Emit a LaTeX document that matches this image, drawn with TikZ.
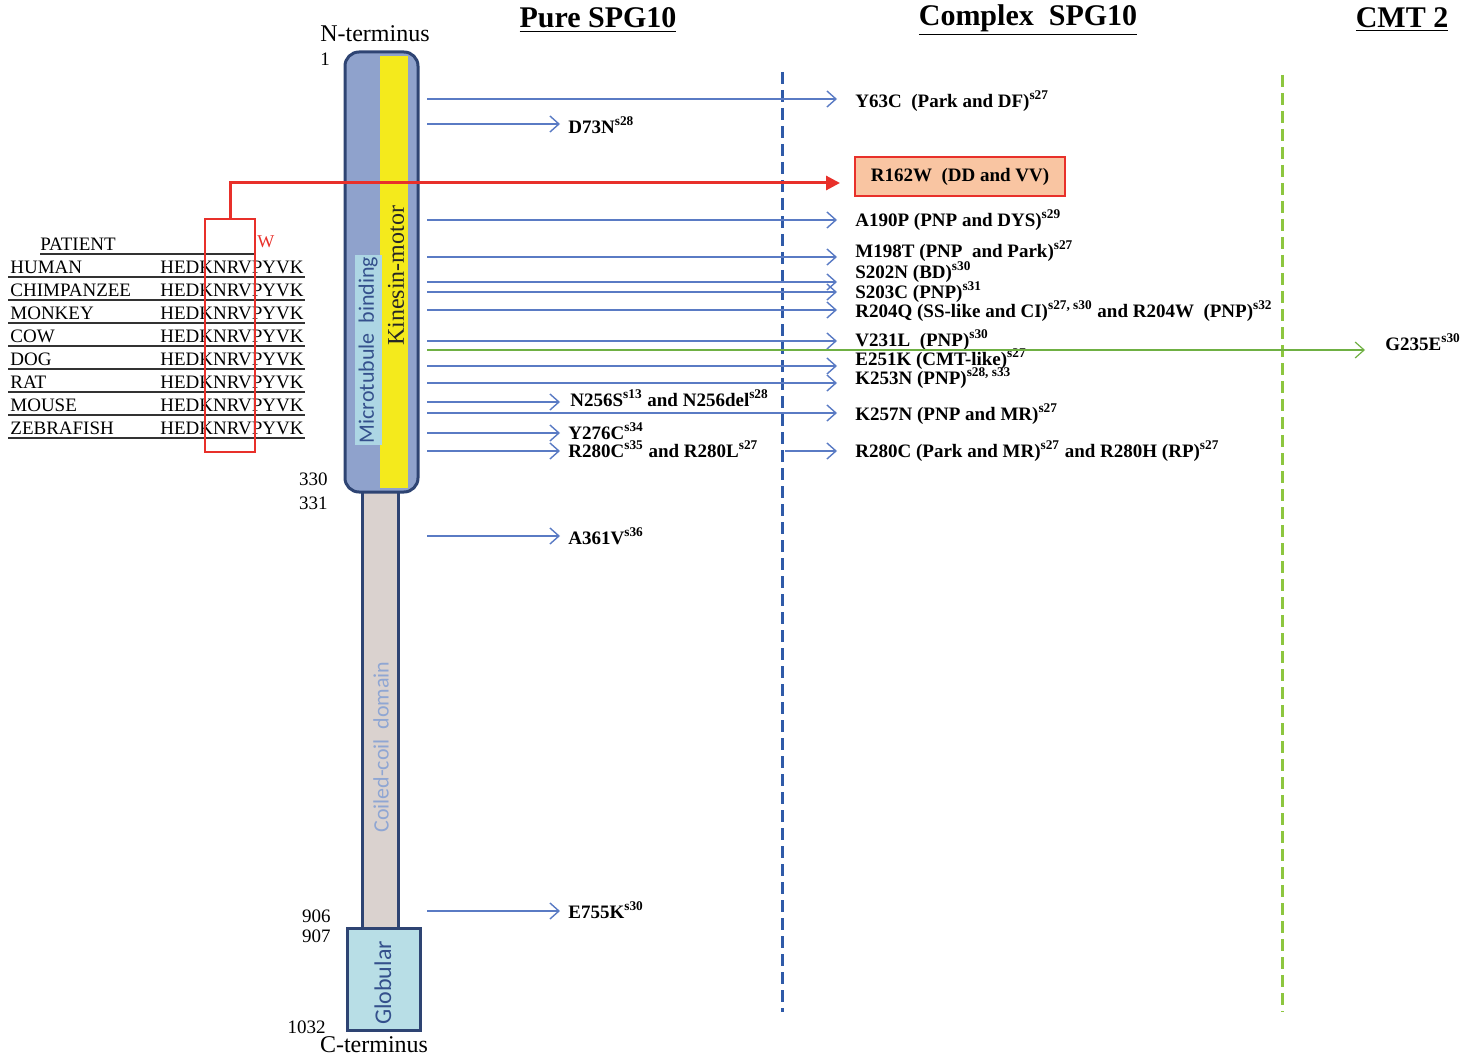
\documentclass[tikz,border=0pt]{standalone}
\usepackage{fontspec}
\setmainfont{Liberation Serif}
\newfontfamily\carl{Carlito}
\usetikzlibrary{arrows.meta}
\definecolor{domblue}{HTML}{8FA2CC}
\definecolor{domedge}{HTML}{2E4473}
\definecolor{kinyel}{HTML}{F4EA1C}
\definecolor{mtcyan}{HTML}{ADD6E4}
\definecolor{mttext}{HTML}{34508C}
\definecolor{ccfill}{HTML}{DAD2CF}
\definecolor{cctext}{HTML}{8FA6D3}
\definecolor{globfill}{HTML}{B8DEE6}
\definecolor{arrblue}{HTML}{5A7BC4}
\definecolor{dashblue}{HTML}{2F5AA8}
\definecolor{dashgreen}{HTML}{8DC63F}
\definecolor{arrgreen}{HTML}{6FB043}
\definecolor{redc}{HTML}{E8302A}
\definecolor{salmon}{HTML}{F9C5A2}
\newcommand\refx[1]{\textsuperscript{#1}}
\begin{document}
\begin{tikzpicture}[x=0.5pt,y=-0.5pt,
  mut/.style={anchor=west,inner sep=0pt,font=\fontsize{9.5}{10}\selectfont\bfseries},
  aln/.style={anchor=west,inner sep=0pt,font=\fontsize{9.5}{10}\selectfont},
  num/.style={anchor=east,inner sep=0pt,font=\fontsize{9.5}{10}\selectfont},
  head/.style={inner sep=0pt,font=\fontsize{15}{16}\selectfont\bfseries},
  term/.style={inner sep=0pt,font=\fontsize{12}{13}\selectfont},
  barr/.style={draw=arrblue,line width=0.7pt,-{Straight Barb[length=4.5pt,width=8pt]}},
  longarr/.style={barr,shorten >=9pt},
  shortarr/.style={barr,shorten >=4pt},
  vdash/.style={line width=1.5pt,dash pattern=on 6pt off 3pt},
  uline/.style={draw=black!80,line width=0.6pt}]
\useasboundingbox (0,0) rectangle (1472,1059);

% ---- headers
\node[head] (hpure) at (598,20) {\underline{Pure SPG10}};
\node[head] (hcomp) at (1028,20) {\underline{Complex\ \ SPG10}};
\node[head] (hcmt) at (1402,20) {\underline{CMT 2}};

% ---- dashed separators
\draw[vdash,draw=dashblue] (782,72) -- (782,1012);
\draw[vdash,draw=dashgreen] (1282,75) -- (1282,1012);

% ---- protein
\draw[domedge,line width=1.5pt,fill=ccfill] (362,488) rectangle (398,928);
\draw[domedge,line width=1.5pt,fill=globfill] (347,928) rectangle (420,1030);
\draw[domedge,line width=1.5pt,fill=domblue,rounded corners=7pt] (345,52) rectangle (418,492);
\fill[kinyel] (380,56) rectangle (408,488);
\node[fill=mtcyan,inner sep=1pt,minimum height=13.5pt,rotate=90,text=mttext,
  font=\carl\fontsize{11}{12}\selectfont] (mtb) at (368,350) {Microtubule\ \ binding};
\node[rotate=90,inner sep=0pt,text=black!85,
  font=\fontsize{12}{13}\selectfont] (kin) at (396,276) {Kinesin-motor};
\node[rotate=90,inner sep=0pt,text=cctext,
  font=\carl\fontsize{11}{12}\selectfont] (cc) at (381,747) {Coiled-coil\ \ domain};
\node[rotate=90,inner sep=0pt,text=mttext,
  font=\carl\fontsize{12}{13}\selectfont] (glob) at (383,983) {Globular};

\node[term] (nterm) at (375,34) {N-terminus};
\node[term] (cterm) at (374,1045) {C-terminus};
\node[num,anchor=center] (n1) at (325,59) {1};
\node[num] (n330) at (328,479) {330};
\node[num] (n331) at (328,503) {331};
\node[num] (n906) at (331,916) {906};
\node[num] (n907) at (331,936) {907};
\node[num] (n1032) at (326,1027) {1032};

% ---- alignment
\node[aln] (pat) at (40,244) {PATIENT};
\node[aln,text=redc,font=\fontsize{9}{10}\selectfont] (pw) at (257,242) {W};
\draw[uline] (40,254) -- (255,254);
\foreach \nm/\yy [count=\i] in {HUMAN/267,CHIMPANZEE/290,MONKEY/313,COW/336,DOG/359,RAT/382,MOUSE/405,ZEBRAFISH/428}{
  \node[aln] (sp\i) at (10,\yy) {\nm};
  \node[aln] (sq\i) at (160,\yy) {HEDKNRVPYVK};
  \draw[uline] (8,\yy+10) -- (305,\yy+10);
}
\node[draw=redc,line width=1pt,minimum width=25pt,minimum height=116.5pt,inner sep=0pt] (redbox) at (230,335.5) {};

% ---- mutation labels
\node[mut] (y63) at (855,101) {Y63C\ \ (Park and DF)\refx{s27}};
\node[mut] (d73) at (568,125) {D73N\refx{s28}};
\node[mut,draw=redc,line width=1pt,fill=salmon,anchor=center,minimum width=105pt,minimum height=19.5pt] (r162) at (960,176.5) {R162W\ \ (DD and VV)};
\node[mut] (a190) at (855,220) {A190P (PNP and DYS)\refx{s29}};
\node[mut] (m198) at (855,251) {M198T (PNP\ \ and Park)\refx{s27}};
\node[mut] (s202) at (855,272) {S202N (BD)\refx{s30}};
\node[mut] (s203) at (855,292) {S203C (PNP)\refx{s31}};
\node[mut] (r204) at (855,311) {R204Q (SS-like and CI)\refx{s27, s30} and R204W\ \ (PNP)\refx{s32}};
\node[mut] (v231) at (855,340) {V231L\ \ (PNP)\refx{s30}};
\node[mut] (e251) at (855,359) {E251K (CMT-like)\refx{s27}};
\node[mut] (k253) at (855,378) {K253N (PNP)\refx{s28, s33}};
\node[mut] (n256) at (570,398) {N256S\refx{s13} and N256del\refx{s28}};
\node[mut] (k257) at (855,414) {K257N (PNP and MR)\refx{s27}};
\node[mut] (y276) at (568,431) {Y276C\refx{s34}};
\node[mut] (r280p) at (568,449) {R280C\refx{s35} and R280L\refx{s27}};
\node[mut] (r280c) at (855,451) {R280C (Park and MR)\refx{s27} and R280H (RP)\refx{s27}};
\node[mut] (g235) at (1385,342) {G235E\refx{s30}};
\node[mut] (a361) at (568,536) {A361V\refx{s36}};
\node[mut] (e755) at (568,910) {E755K\refx{s30}};

% ---- connector start points
\coordinate (c63) at (427,99);
\coordinate (c73) at (427,124);
\coordinate (c190) at (427,220);
\coordinate (c198) at (427,257);
\coordinate (c202) at (427,282);
\coordinate (c203) at (427,292);
\coordinate (c204) at (427,310);
\coordinate (c231) at (427,341);
\coordinate (c235) at (427,350);
\coordinate (c251) at (427,366);
\coordinate (c253) at (427,383);
\coordinate (c256) at (427,402);
\coordinate (c257) at (427,413);
\coordinate (c276) at (427,433);
\coordinate (c280) at (427,451);
\coordinate (c280x) at (785,451);
\coordinate (c361) at (427,536);
\coordinate (c755) at (427,911);
\coordinate (rend) at (840,183);

\draw[longarr] (c63) -- (c63 -| y63.west);
\draw[shortarr] (c73) -- (c73 -| d73.west);
\draw[longarr] (c190) -- (c190 -| a190.west);
\draw[longarr] (c198) -- (c198 -| m198.west);
\draw[longarr] (c202) -- (c202 -| s202.west);
\draw[longarr] (c203) -- (c203 -| s203.west);
\draw[longarr] (c204) -- (c204 -| r204.west);
\draw[longarr] (c231) -- (c231 -| v231.west);
\draw[longarr] (c251) -- (c251 -| e251.west);
\draw[longarr] (c253) -- (c253 -| k253.west);
\draw[barr,shorten >=5pt] (c256) -- (c256 -| n256.west);
\draw[longarr] (c257) -- (c257 -| k257.west);
\draw[shortarr] (c276) -- (c276 -| y276.west);
\draw[shortarr] (c280) -- (c280 -| r280p.west);
\draw[longarr] (c280x) -- (c280x -| r280c.west);
\draw[shortarr] (c361) -- (c361 -| a361.west);
\draw[shortarr] (c755) -- (c755 -| e755.west);
\draw[draw=arrgreen,line width=0.6pt,-{Straight Barb[length=4.5pt,width=8pt]},shorten >=10pt] (c235) -- (c235 -| g235.west);

% ---- red connector
\draw[draw=redc,line width=1.5pt,-{Triangle[length=7pt,width=7pt]}] (redbox.north) |- (rend);
\end{tikzpicture}
\end{document}
